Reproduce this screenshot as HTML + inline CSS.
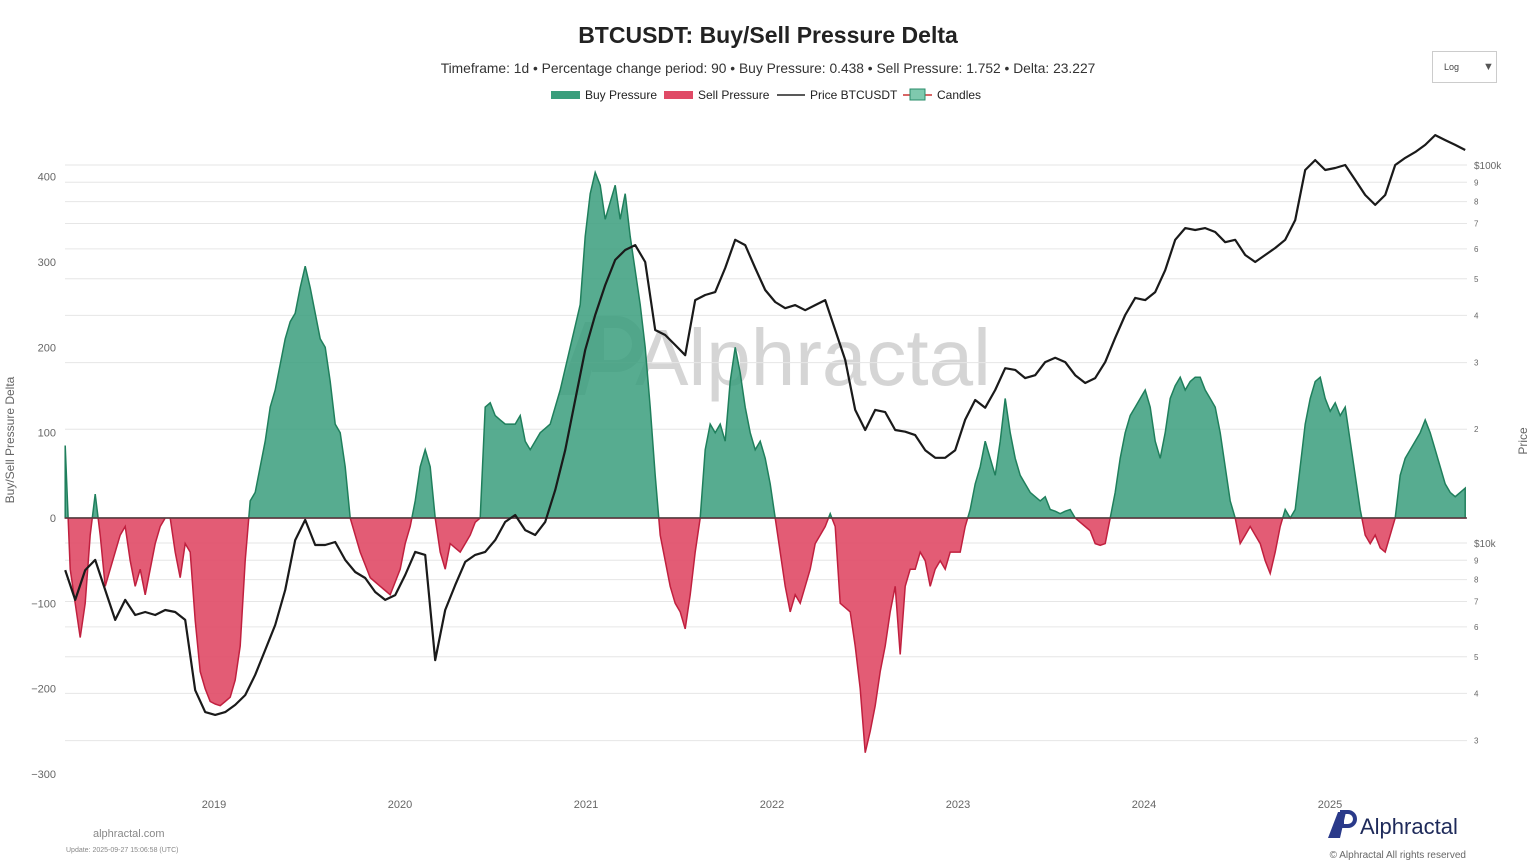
<!DOCTYPE html>
<html><head><meta charset="utf-8">
<style>
body{margin:0;background:#fff;font-family:"Liberation Sans",Arial,sans-serif;}
svg{display:block}
</style></head>
<body>
<svg id="c" width="1536" height="864" xmlns="http://www.w3.org/2000/svg">
<text x="768" y="43" text-anchor="middle" font-size="23" font-weight="bold" fill="#222">BTCUSDT: Buy/Sell Pressure Delta</text>
<text x="768" y="73" text-anchor="middle" font-size="13.8" fill="#333">Timeframe: 1d  •  Percentage change period: 90  •  Buy Pressure: 0.438 • Sell Pressure: 1.752 • Delta: 23.227</text>
<g font-size="12" fill="#222">
<g><rect x="551" y="91" width="29" height="8" fill="#3a9e7c"/><text x="585" y="99">Buy Pressure</text></g>
<g><rect x="664" y="91" width="29" height="8" fill="#e04a66"/><text x="698" y="99">Sell Pressure</text></g>
<g><line x1="777" y1="95" x2="805" y2="95" stroke="#222" stroke-width="1.5"/><text x="810" y="99">Price BTCUSDT</text></g>
<g><line x1="903" y1="95" x2="932" y2="95" stroke="#c33" stroke-width="1.5"/><rect x="910" y="89" width="15" height="11" fill="#7fc9ae" stroke="#2a8c6a"/><text x="937" y="99">Candles</text></g>
</g>
<g><rect x="1432.5" y="51.5" width="64" height="31" fill="#fff" stroke="#ccc"/><text x="1444" y="70" font-size="9" fill="#444">Log</text><text x="1483" y="70" font-size="11" fill="#555">▼</text></g>
<g opacity="0.4">
<path d="M558 395 L585 322 L605 322 L585 395 Z" fill="#999"/>
<path d="M598 322 h18 a22 22 0 0 1 0 44 h-18 Z" fill="none" stroke="#999" stroke-width="12"/>
<text x="813" y="385" text-anchor="middle" font-size="80" fill="#999">Alphractal</text>
</g>
<g id="grid"></g>
<g id="areas"></g>
<g id="price"></g>
<g id="axes"></g>
<text x="93" y="837" font-size="11" fill="#888">alphractal.com</text>
<text x="66" y="852" font-size="7" fill="#888">Update: 2025-09-27 15:06:58 (UTC)</text>
<g><path d="M1328 838 L1338 812 L1346 812 L1340 838 Z" fill="#2a3a8a"/><path d="M1342 812 h6 a7 7 0 0 1 0 14 h-6 Z" fill="none" stroke="#2a3a8a" stroke-width="4"/><text x="1360" y="834" font-size="22" fill="#1e2a5a">Alphractal</text></g>
<text x="1466" y="858" text-anchor="end" font-size="10" fill="#666">© Alphractal All rights reserved</text>
</svg>
<script>
const deltaStart = 2018.2;
const deltaStepYears = 5/186;
const deltaValues = [85,-60,-100,-140,-100,-20,28,-20,-80,-60,-40,-20,-10,-50,-80,-60,-90,-60,-30,-10,0,0,-40,-70,-30,-40,-120,-180,-200,-215,-218,-220,-215,-210,-190,-150,-50,20,30,60,90,130,150,180,210,230,240,270,295,270,240,210,200,160,110,100,60,0,-20,-40,-55,-70,-75,-80,-85,-90,-75,-60,-30,-10,20,60,80,60,0,-40,-60,-30,-35,-40,-30,-20,-5,0,130,135,120,115,110,110,110,120,90,80,90,100,105,110,130,150,175,200,225,250,330,380,405,390,350,370,390,350,380,330,290,250,200,130,50,-20,-50,-80,-100,-110,-130,-90,-40,0,80,110,100,110,90,160,200,170,130,100,80,90,70,40,0,-40,-80,-110,-90,-100,-80,-60,-30,-20,-10,5,-10,-100,-105,-110,-150,-200,-275,-250,-220,-180,-150,-110,-80,-160,-80,-60,-60,-40,-50,-80,-60,-50,-60,-40,-40,-40,-10,10,40,60,90,70,50,90,140,100,70,50,40,30,25,20,25,10,8,5,8,10,0,-5,-10,-15,-30,-32,-30,0,30,70,100,120,130,140,150,130,90,70,100,140,155,165,150,160,165,165,150,140,130,100,60,20,0,-30,-20,-10,-20,-30,-50,-65,-40,-10,10,0,10,60,110,140,160,165,140,125,135,120,130,90,50,10,-20,-30,-20,-35,-40,-20,0,50,70,80,90,100,115,100,80,60,40,30,25,30,35];
const priceStart = 2018.2;
const priceStepYears = 10/186;
const priceValues = [8480,7070,8480,9020,7510,6260,7070,6450,6570,6450,6650,6570,6260,4080,3570,3510,3570,3730,3960,4480,5210,6070,7510,10180,11510,9880,9880,10060,9020,8380,8080,7420,7070,7280,8230,9470,9300,4900,6650,7740,8910,9300,9470,10180,11370,11860,10820,10500,11370,13800,17600,23900,32400,40100,48100,56100,59600,61400,55400,36600,35500,33400,31400,43900,45300,46100,53400,63400,61400,53400,46700,43400,41800,42600,41300,42600,43900,36600,30500,22500,19900,22500,22200,19900,19700,19300,17600,16800,16800,17600,21200,23900,22800,25400,29000,28700,27300,27800,30100,30900,30100,27800,26500,27300,30100,34900,40100,44500,43900,46100,52700,63400,68100,67300,68100,66500,62500,63400,57800,55400,57800,60300,63400,71500,97000,103000,97000,98200,100000,91300,83300,78400,83300,100000,104400,108200,113000,120000,116400,113000,109600];
const leftTicks = [400,300,200,100,0,-100,-200,-300];
const yearTicks = [2019,2020,2021,2022,2023,2024,2025];
const priceTickLabels = [[100000,'$100k'],[90000,'9'],[80000,'8'],[70000,'7'],[60000,'6'],[50000,'5'],[40000,'4'],[30000,'3'],[20000,'2'],[10000,'$10k'],[9000,'9'],[8000,'8'],[7000,'7'],[6000,'6'],[5000,'5'],[4000,'4'],[3000,'3']];

const NS='http://www.w3.org/2000/svg';
const X0=65,X1=1467;
const xOf=yr=>214+(yr-2019)*186;
const yL=v=>518-v*0.8534;
const yP=p=>543-(Math.log10(p)-4)*378;
function mk(tag,attrs,parent){const e=document.createElementNS(NS,tag);for(const k in attrs)e.setAttribute(k,attrs[k]);parent.appendChild(e);return e;}

const grid=document.getElementById('grid');
priceTickLabels.forEach(t=>{
  const y=yP(t[0]);
  const l=mk('line',{x1:X0,x2:X1,y1:y,y2:y,stroke:'#e6e6e6','stroke-width':1},grid);
  
  
});

const areas=document.getElementById('areas');
let d='M'+xOf(deltaStart)+','+yL(0);
deltaValues.forEach((v,i)=>{d+=' L'+xOf(deltaStart+i*deltaStepYears).toFixed(1)+','+yL(v).toFixed(1);});
d+=' L'+xOf(deltaStart+(deltaValues.length-1)*deltaStepYears).toFixed(1)+','+yL(0)+' Z';
const defs=mk('defs',{},areas);
const cp1=mk('clipPath',{id:'above'},defs);mk('rect',{x:0,y:0,width:1536,height:yL(0)},cp1);
const cp2=mk('clipPath',{id:'below'},defs);mk('rect',{x:0,y:yL(0),width:1536,height:400},cp2);
const buy=mk('path',{d:d,fill:'#3a9e7c','fill-opacity':0.85,stroke:'#1f7f5c','stroke-width':1.5,'clip-path':'url(#above)'},areas);


const sell=mk('path',{d:d,fill:'#e04a66','fill-opacity':0.9,stroke:'#c0203f','stroke-width':1.5,'clip-path':'url(#below)'},areas);


const zl=mk('line',{x1:X0,x2:X1,y1:yL(0),y2:yL(0),stroke:'#5a3a40','stroke-width':1.5},areas);



const pg=document.getElementById('price');
let pd='';
priceValues.forEach((p,i)=>{pd+=(i?' L':'M')+xOf(priceStart+i*priceStepYears).toFixed(1)+','+yP(p).toFixed(1);});
const pl=mk('path',{d:pd,fill:'none',stroke:'#1a1a1a','stroke-width':2.2,'stroke-linejoin':'round'},pg);



const ax=document.getElementById('axes');
leftTicks.forEach(v=>{
  const t=mk('text',{x:56,y:yL(v)+4,'text-anchor':'end','font-size':11,fill:'#666'},ax);
  t.textContent=v<0?'−'+(-v):String(v);
  
  
});
yearTicks.forEach(yr=>{
  const t=mk('text',{x:xOf(yr),y:808,'text-anchor':'middle','font-size':11,fill:'#666'},ax);
  t.textContent=yr;
  
  
});
priceTickLabels.forEach(pt=>{
  const big=pt[1].length>1;
  const t=mk('text',{x:1474,y:yP(pt[0])+(big?4:3),'font-size':big?10:8,fill:'#666'},ax);
  t.textContent=pt[1];
  
  
});
const yt=mk('text',{x:14,y:440,'text-anchor':'middle','font-size':12,fill:'#666',transform:'rotate(-90 14 440)'},ax);
yt.textContent='Buy/Sell Pressure Delta';


const pt=mk('text',{x:1527,y:441,'text-anchor':'middle','font-size':12,fill:'#666',transform:'rotate(-90 1527 441)'},ax);
pt.textContent='Price';


</script>
</body></html>
